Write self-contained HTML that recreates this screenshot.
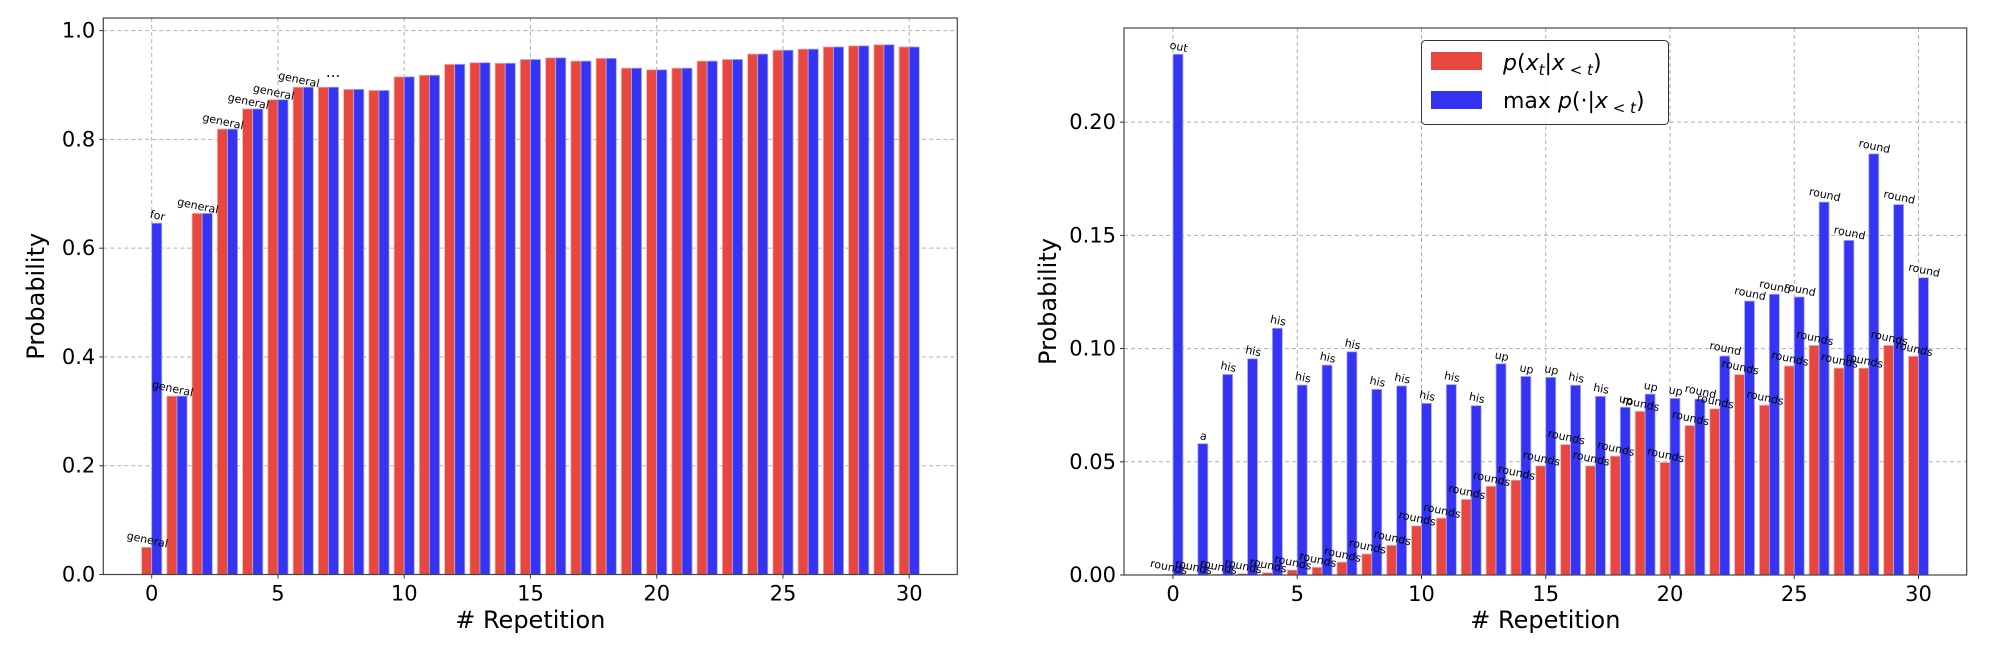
<!DOCTYPE html>
<html><head><meta charset="utf-8"><style>
html,body{margin:0;padding:0;background:#fff;}
svg{display:block;font-family:"DejaVu Sans","Liberation Sans",sans-serif;}
</style></head><body>
<svg id="chart" width="2000" height="650" viewBox="0 0 2000 650" xmlns="http://www.w3.org/2000/svg"></svg>
<script>
// ---- data ----
const repetitions = [0,1,2,3,4,5,6,7,8,9,10,11,12,13,14,15,16,17,18,19,20,21,22,23,24,25,26,27,28,29,30];
const leftRed = [0.05,0.328,0.664,0.819,0.856,0.873,0.896,0.896,0.892,0.890,0.915,0.918,0.938,0.941,0.940,0.947,0.950,0.944,0.949,0.931,0.928,0.931,0.944,0.947,0.957,0.964,0.966,0.970,0.972,0.974,0.970];
const leftBlue = [0.646,0.328,0.664,0.819,0.856,0.873,0.896,0.896,0.892,0.890,0.915,0.918,0.938,0.941,0.940,0.947,0.950,0.944,0.949,0.931,0.928,0.931,0.944,0.947,0.957,0.964,0.966,0.970,0.972,0.974,0.970];
const leftYTicks = [0.0,0.2,0.4,0.6,0.8,1.0];
const leftYTickLabels = ["0.0","0.2","0.4","0.6","0.8","1.0"];
const xTicks = [0,5,10,15,20,25,30];
const rightRed = [0.0002,0.0002,0.0003,0.0006,0.001,0.0022,0.0034,0.0057,0.0093,0.0131,0.0217,0.0251,0.0334,0.0392,0.0419,0.0482,0.0576,0.0482,0.0525,0.0723,0.0497,0.066,0.0734,0.0885,0.075,0.0923,0.1014,0.0914,0.0914,0.1014,0.0966];
const rightBlue = [0.230,0.058,0.0886,0.0955,0.109,0.0839,0.0927,0.0986,0.082,0.0835,0.0758,0.0841,0.0748,0.0933,0.0877,0.0873,0.0838,0.0789,0.0741,0.0799,0.078,0.0777,0.0967,0.121,0.124,0.1228,0.1647,0.1478,0.186,0.1636,0.1313];
const rightBlueTokens = ["out","a","his","his","his","his","his","his","his","his","his","his","his","up","up","up","his","his","up","up","up","round","round","round","round","round","round","round","round","round","round"];
const rightYTicks = [0,0.05,0.10,0.15,0.20];
const rightYTickLabels = ["0.00","0.05","0.10","0.15","0.20"];

const NS="http://www.w3.org/2000/svg";
const svg=document.getElementById('chart');
function el(tag,attrs,parent){const e=document.createElementNS(NS,tag);for(const k in attrs)e.setAttribute(k,attrs[k]);(parent||svg).appendChild(e);return e;}
const RED="#e8473f", BLUE="#3434f2";

function drawPanel(cfg){
  const g=el('g',{});
  
  
  const xs=v=>cfg.x0+v*cfg.ux;
  const ys=v=>cfg.yb-(v/cfg.ymax)*(cfg.yb-cfg.top);
  // grid
  cfg.yTicks.forEach((t,i)=>{
    const l=el('line',{x1:cfg.left,x2:cfg.right,y1:ys(t),y2:ys(t),stroke:"#b0b0b0","stroke-width":1,"stroke-dasharray":"4,3"},g);
    
    
  });
  xTicks.forEach(t=>{
    const l=el('line',{x1:xs(t),x2:xs(t),y1:cfg.top,y2:cfg.yb,stroke:"#b0b0b0","stroke-width":1,"stroke-dasharray":"4,3"},g);
    
    
  });
  const bw=0.4*cfg.ux;
  repetitions.forEach((r,i)=>{
    const rv=cfg.red[i], bv=cfg.blue[i];
    const b1=el('rect',{x:xs(r-0.4),y:ys(rv),width:bw,height:cfg.yb-ys(rv),fill:RED,stroke:"#f4b0ac","stroke-width":0.8},g);
    
    
    const b2=el('rect',{x:xs(r),y:ys(bv),width:bw,height:cfg.yb-ys(bv),fill:BLUE,stroke:"#a8a8f8","stroke-width":0.8},g);
    
    
  });
  // spines
  const fr=el('rect',{x:cfg.left,y:cfg.top,width:cfg.right-cfg.left,height:cfg.yb-cfg.top,fill:"none",stroke:"#444","stroke-width":1.2},g);
  
  
  cfg.yTicks.forEach((t,i)=>{
    el('line',{x1:cfg.left-4,x2:cfg.left,y1:ys(t),y2:ys(t),stroke:"#333","stroke-width":1},g);
    const tx=el('text',{x:cfg.left-8,y:ys(t)+7,"text-anchor":"end","font-size":21,fill:"#000"},g);
    tx.textContent=cfg.yLabels[i];
    
    
  });
  xTicks.forEach(t=>{
    el('line',{x1:xs(t),x2:xs(t),y1:cfg.yb,y2:cfg.yb+4,stroke:"#333","stroke-width":1},g);
    const tx=el('text',{x:xs(t),y:cfg.yb+26,"text-anchor":"middle","font-size":21,fill:"#000"},g);
    tx.textContent=String(t);
    
    
  });
  const xl=el('text',{x:(cfg.left+cfg.right)/2,y:628,"text-anchor":"middle","font-size":24,fill:"#000"},g);
  xl.textContent="# Repetition";
  
  
  const yl=el('text',{x:0,y:0,"text-anchor":"middle","font-size":24,fill:"#000",transform:`translate(${cfg.ylx},${(cfg.top+cfg.yb)/2}) rotate(-90)`},g);
  yl.textContent="Probability";
  
  
  return {g,xs,ys};
}
function tokenLabel(g,x,y,txt){
  const t=el('text',{x:0,y:0,"text-anchor":"middle","font-size":11,fill:"#000",transform:`translate(${x},${y}) rotate(12)`},g);
  t.textContent=txt;
  
  
}

// left panel
const L=drawPanel({name:'left-panel',x0:151.7,ux:25.25,left:103.3,right:957.3,top:18,yb:574.5,ymax:1.0232,red:leftRed,blue:leftBlue,yTicks:leftYTicks,yLabels:leftYTickLabels,ylx:44});
tokenLabel(L.g,L.xs(-0.2),L.ys(leftRed[0])-4,"general");
tokenLabel(L.g,L.xs(0.2),L.ys(leftBlue[0])-4,"for");
for(let i=1;i<=6;i++){tokenLabel(L.g,L.xs(i-0.2),L.ys(leftRed[i])-4,"general");}
const dots=el('text',{x:L.xs(6.9),y:L.ys(leftRed[6])-10,"font-size":15,fill:"#000"},L.g);
dots.textContent="...";



// right panel
const R=drawPanel({name:'right-panel',x0:1173,ux:24.85,left:1124,right:1966.7,top:28,yb:575,ymax:0.2416,red:rightRed,blue:rightBlue,yTicks:rightYTicks,yLabels:rightYTickLabels,ylx:1056});
repetitions.forEach((r,i)=>{
  tokenLabel(R.g,R.xs(r-0.2),R.ys(rightRed[i])-4,"rounds");
  tokenLabel(R.g,R.xs(r+0.2),R.ys(rightBlue[i])-4,rightBlueTokens[i]);
});

// legend
const lg=el('g',{});


el('rect',{x:1421.5,y:40.5,width:247,height:84,rx:4,fill:"#fff","fill-opacity":0.85,stroke:"#333","stroke-width":1},lg);
el('rect',{x:1431,y:52,width:51,height:18,fill:RED},lg);
el('rect',{x:1431,y:91,width:51,height:18,fill:BLUE},lg);
const t1=el('text',{x:1503,y:70,"font-size":22,fill:"#000"},lg);
t1.innerHTML='<tspan font-style="italic">p</tspan>(<tspan font-style="italic">x</tspan><tspan font-size="15" dy="5" font-style="italic">t</tspan><tspan dy="-5">|</tspan><tspan font-style="italic">x</tspan><tspan font-size="15" dy="5"> &lt; </tspan><tspan font-size="15" font-style="italic">t</tspan><tspan dy="-5">)</tspan>';


const t2=el('text',{x:1503,y:108,"font-size":22,fill:"#000"},lg);
t2.innerHTML='max <tspan font-style="italic">p</tspan>(·|<tspan font-style="italic">x</tspan><tspan font-size="15" dy="5"> &lt; </tspan><tspan font-size="15" font-style="italic">t</tspan><tspan dy="-5">)</tspan>';


</script>
</body></html>
